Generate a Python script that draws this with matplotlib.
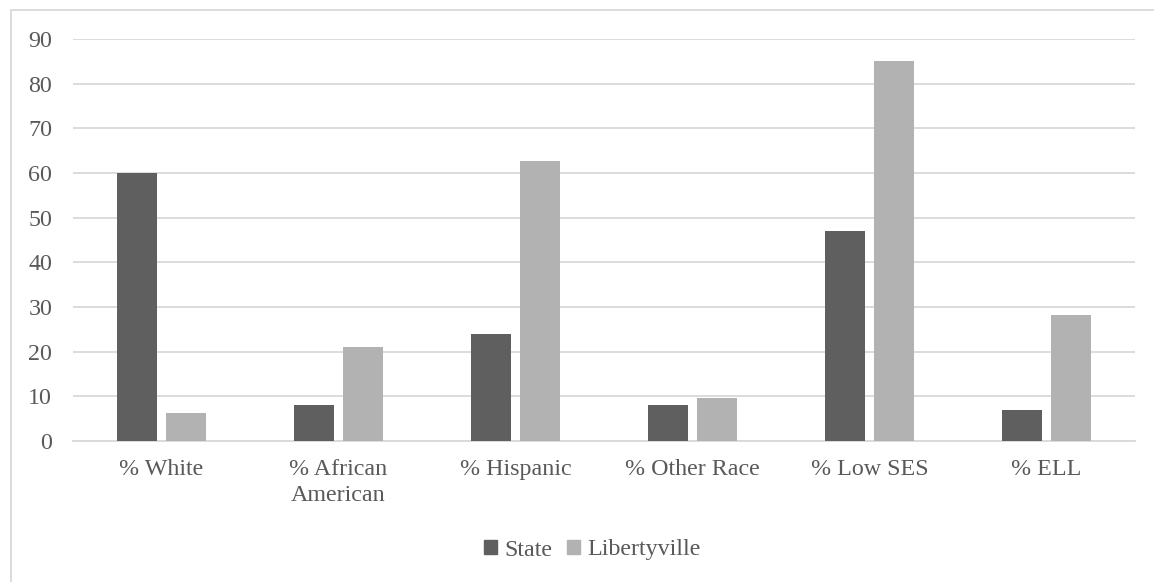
import matplotlib.pyplot as plt
import numpy as np
from matplotlib.patches import Rectangle, Patch

categories = ["% White", "% African\nAmerican", "% Hispanic", "% Other Race", "% Low SES", "% ELL"]
state = [60, 8, 24, 8, 47, 7]
libertyville = [6.3, 21, 62.7, 9.7, 85, 28.3]
yticks = [0, 10, 20, 30, 40, 50, 60, 70, 80, 90]

dark = "#5f5f5f"
light = "#b2b2b2"
grid = "#d9d9d9"
text = "#595959"

plt.rcParams["font.family"] = ["Liberation Serif", "DejaVu Serif"]

W, H = 1154, 582
fig = plt.figure(figsize=(W / 100, H / 100), dpi=100)

# outer chart frame, running off the right and bottom edges
fig.patches.append(Rectangle((11 / W, -0.1), 1.2, 1.1 - 10 / H, transform=fig.transFigure,
                             fill=False, edgecolor=grid, linewidth=1.3))

ax = fig.add_axes([73 / W, 1 - 441 / H, (1135 - 73) / W, (441 - 39) / H])
x = np.arange(len(categories))
bw = 0.226
off = 0.141
ax.bar(x - off, state, bw, color=dark, label="State", zorder=3)
ax.bar(x + off, libertyville, bw, color=light, label="Libertyville", zorder=3)

ax.set_xlim(-0.5, len(categories) - 0.5)
ax.set_ylim(0, 90)
ax.set_yticks(yticks)
ax.set_xticks(x)
ax.set_xticklabels(categories)
ax.yaxis.grid(True, color=grid, linewidth=1.3, zorder=0)
for s in ["top", "right", "left"]:
    ax.spines[s].set_visible(False)
ax.spines["bottom"].set_color(grid)
ax.spines["bottom"].set_linewidth(1.3)
ax.tick_params(length=0, labelsize=17.3, labelcolor=text)
ax.tick_params(axis="y", pad=15)
ax.tick_params(axis="x", pad=13)
for lbl in ax.get_xticklabels():
    lbl.set_linespacing(1.3)

handles = [Patch(color=dark, label="State"), Patch(color=light, label="Libertyville")]
fig.legend(handles=handles, loc="center", bbox_to_anchor=(592 / W, 1 - 550 / H), ncol=2,
           frameon=False, fontsize=17.3, labelcolor=text, handlelength=0.55, handleheight=0.55,
           handletextpad=0.3, columnspacing=0.6)

fig.savefig("out.png", dpi=100)
